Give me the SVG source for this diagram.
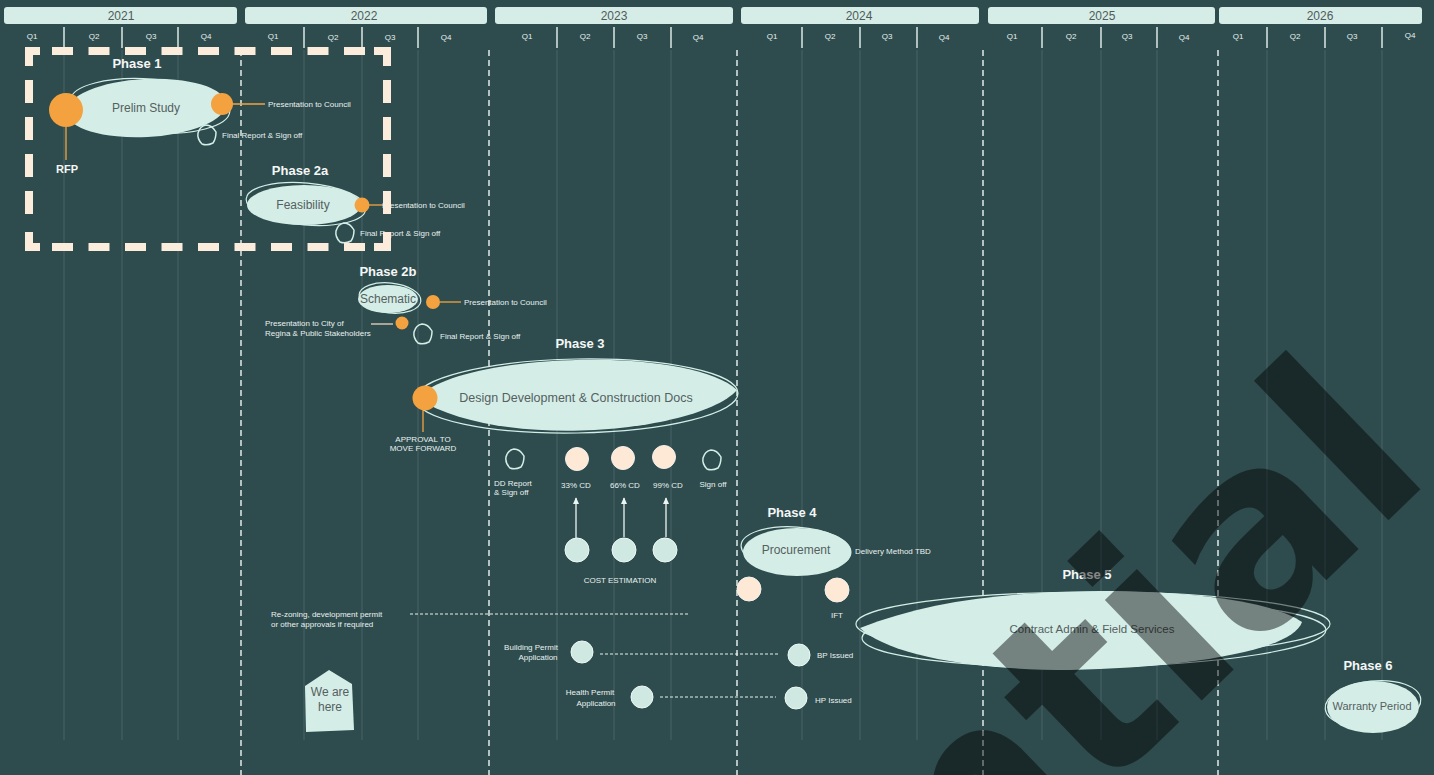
<svg xmlns="http://www.w3.org/2000/svg" xmlns:xlink="http://www.w3.org/1999/xlink" width="1434" height="775" viewBox="0 0 1434 775">
<defs>
<style>
.bg{fill:#2e4c4e}
.yearbar{fill:#d6ede7}
.year{font-family:"Liberation Sans",Arial,sans-serif;font-size:12px;fill:#4f5b5a;text-anchor:middle}
.q{font-family:"Liberation Sans",Arial,sans-serif;font-size:8px;fill:#e6f0ee;text-anchor:middle}
.tick{stroke:#e8f2ef;stroke-width:1.4}
.grid{stroke:#ffffff;stroke-opacity:0.13;stroke-width:1}
.ydash{stroke:#eef5f3;stroke-width:1.4;stroke-dasharray:6 4}
.box{stroke:#fcecdc;stroke-width:8;fill:none}
.fill{fill:#d4eee7}
.outline{fill:none;stroke:#d4eee7;stroke-width:1.2}
.ntext{font-family:"Liberation Sans",Arial,sans-serif;fill:#55605f;text-anchor:middle}
.phase{font-family:"Liberation Sans",Arial,sans-serif;font-weight:bold;font-size:13px;fill:#f4f7f6;text-anchor:middle}
.lbl{font-family:"Liberation Sans",Arial,sans-serif;font-size:8px;fill:#e9f1ef}
.lblc{font-family:"Liberation Sans",Arial,sans-serif;font-size:8px;fill:#e9f1ef;text-anchor:middle}
.orange{fill:#f4a23f}
.oline{stroke:#f4a23f;stroke-width:1.3}
.pent{fill:none;stroke:#d4eee7;stroke-width:1.5;stroke-linejoin:round}
.cream{fill:#fde9d6;stroke:#f6f0ea;stroke-width:1}
.mint{fill:#cfe9e2;stroke:#eef8f5;stroke-width:1}
.dots{stroke:#e9f1ef;stroke-width:1;stroke-dasharray:3 2}
.arrow{stroke:#eef5f3;stroke-width:1.3;marker-end:url(#ah)}
.wm{font-family:"DejaVu Sans","Liberation Sans",sans-serif;font-weight:bold;font-size:255px;fill:#000000;fill-opacity:0.45}
</style>
<marker id="ah" viewBox="0 0 10 10" refX="8" refY="5" markerWidth="6" markerHeight="6" orient="auto-start-reverse">
<path d="M0,1 L9,5 L0,9 Z" fill="#eef5f3"/>
</marker>
<path id="pentagon" d="M-1,-10 Q5,-10 9,-3 Q9,4 6,8 Q0,11 -5,9 Q-10,4 -9,-2 Q-7,-9 -1,-10 Z"/>
</defs>

<rect class="bg" x="0" y="0" width="1434" height="775"/>

<g id="timeline-header">
<rect class="yearbar" x="4" y="7" width="233" height="17" rx="3"/>
<rect class="yearbar" x="245" y="7" width="242" height="17" rx="3"/>
<rect class="yearbar" x="495" y="7" width="238" height="17" rx="3"/>
<rect class="yearbar" x="741" y="7" width="238" height="17" rx="3"/>
<rect class="yearbar" x="988" y="7" width="227" height="17" rx="3"/>
<rect class="yearbar" x="1219" y="7" width="203" height="17" rx="3"/>
<text class="year" x="121" y="20">2021</text>
<text class="year" x="364" y="20">2022</text>
<text class="year" x="614" y="20">2023</text>
<text class="year" x="859" y="20">2024</text>
<text class="year" x="1102" y="20">2025</text>
<text class="year" x="1320" y="20">2026</text>
<g>
<text class="q" x="32" y="39">Q1</text><text class="q" x="94" y="39">Q2</text><text class="q" x="151" y="39">Q3</text><text class="q" x="206" y="39">Q4</text>
<text class="q" x="273" y="39">Q1</text><text class="q" x="333" y="40">Q2</text><text class="q" x="390" y="40">Q3</text><text class="q" x="446" y="40">Q4</text>
<text class="q" x="527" y="39">Q1</text><text class="q" x="585" y="39">Q2</text><text class="q" x="642" y="39">Q3</text><text class="q" x="698" y="40">Q4</text>
<text class="q" x="772" y="39">Q1</text><text class="q" x="830" y="39">Q2</text><text class="q" x="887" y="39">Q3</text><text class="q" x="944" y="40">Q4</text>
<text class="q" x="1012" y="39">Q1</text><text class="q" x="1071" y="39">Q2</text><text class="q" x="1127" y="39">Q3</text><text class="q" x="1184" y="40">Q4</text>
<text class="q" x="1238" y="39">Q1</text><text class="q" x="1295" y="39">Q2</text><text class="q" x="1352" y="39">Q3</text><text class="q" x="1410" y="38">Q4</text>
</g>
<g>
<line class="tick" x1="64" y1="27" x2="64" y2="48"/><line class="tick" x1="122" y1="27" x2="122" y2="48"/><line class="tick" x1="178" y1="27" x2="178" y2="48"/>
<line class="tick" x1="304" y1="27" x2="304" y2="48"/><line class="tick" x1="362" y1="27" x2="362" y2="48"/><line class="tick" x1="418" y1="27" x2="418" y2="48"/>
<line class="tick" x1="557" y1="27" x2="557" y2="48"/><line class="tick" x1="614" y1="27" x2="614" y2="48"/><line class="tick" x1="671" y1="27" x2="671" y2="48"/>
<line class="tick" x1="802" y1="27" x2="802" y2="48"/><line class="tick" x1="860" y1="27" x2="860" y2="48"/><line class="tick" x1="917" y1="27" x2="917" y2="48"/>
<line class="tick" x1="1042" y1="27" x2="1042" y2="48"/><line class="tick" x1="1101" y1="27" x2="1101" y2="48"/><line class="tick" x1="1157" y1="27" x2="1157" y2="48"/>
<line class="tick" x1="1267" y1="27" x2="1267" y2="48"/><line class="tick" x1="1325" y1="27" x2="1325" y2="48"/><line class="tick" x1="1382" y1="27" x2="1382" y2="48"/>
</g>
</g>

<g id="grid">
<line class="grid" x1="64" y1="50" x2="64" y2="740"/><line class="grid" x1="122" y1="50" x2="122" y2="740"/><line class="grid" x1="178" y1="50" x2="178" y2="740"/>
<line class="grid" x1="304" y1="50" x2="304" y2="740"/><line class="grid" x1="362" y1="50" x2="362" y2="740"/><line class="grid" x1="418" y1="50" x2="418" y2="740"/>
<line class="grid" x1="557" y1="50" x2="557" y2="740"/><line class="grid" x1="614" y1="50" x2="614" y2="740"/><line class="grid" x1="671" y1="50" x2="671" y2="740"/>
<line class="grid" x1="802" y1="50" x2="802" y2="740"/><line class="grid" x1="860" y1="50" x2="860" y2="740"/><line class="grid" x1="917" y1="50" x2="917" y2="740"/>
<line class="grid" x1="1042" y1="50" x2="1042" y2="740"/><line class="grid" x1="1101" y1="50" x2="1101" y2="740"/><line class="grid" x1="1157" y1="50" x2="1157" y2="740"/>
<line class="grid" x1="1267" y1="50" x2="1267" y2="740"/><line class="grid" x1="1325" y1="50" x2="1325" y2="740"/><line class="grid" x1="1382" y1="50" x2="1382" y2="740"/>
<line class="ydash" x1="241" y1="50" x2="241" y2="775"/>
<line class="ydash" x1="489" y1="50" x2="489" y2="775"/>
<line class="ydash" x1="737" y1="50" x2="737" y2="775"/>
<line class="ydash" x1="983" y1="50" x2="983" y2="775"/>
<line class="ydash" x1="1218" y1="50" x2="1218" y2="775"/>
</g>

<g id="connectors">
<line class="oline" x1="230" y1="104" x2="265" y2="104"/>
<line class="oline" x1="66" y1="127" x2="66" y2="160"/>
<line class="oline" x1="369" y1="205" x2="384" y2="205"/>
<line class="oline" x1="440" y1="302" x2="461" y2="302"/>
<line x1="371" y1="324" x2="393" y2="324" stroke="#f0d2c2" stroke-width="1.3"/>
<line class="oline" x1="423" y1="410" x2="423" y2="432"/>
<line class="arrow" x1="576" y1="538" x2="576" y2="498"/>
<line class="arrow" x1="624" y1="537" x2="624" y2="498"/>
<line class="arrow" x1="666" y1="537" x2="666" y2="498"/>
<line class="dots" x1="410" y1="614" x2="690" y2="614"/>
<line class="dots" x1="600" y1="654" x2="780" y2="654"/>
<line class="dots" x1="660" y1="697" x2="776" y2="697"/>
</g>

<g id="phase1">
<text class="phase" x="137" y="68">Phase 1</text>
<ellipse class="fill" cx="146" cy="108" rx="80" ry="29" transform="rotate(-3 146 108)"/>
<ellipse class="outline" cx="150" cy="106" rx="80" ry="27" transform="rotate(4 150 106)"/>
<text class="ntext" x="146" y="112" font-size="12">Prelim Study</text>
</g>
<g id="rfp">
<circle class="orange" cx="66" cy="110" r="17"/>
<text x="67" y="173" font-family="Liberation Sans, Arial, sans-serif" font-weight="bold" font-size="11" fill="#f4f7f6" text-anchor="middle">RFP</text>
</g>
<g id="p1-council">
<circle class="orange" cx="222" cy="104" r="11"/>
<text class="lbl" x="268" y="107">Presentation to Council</text>
</g>
<g id="p1-final">
<use href="#pentagon" xlink:href="#pentagon" class="pent" transform="translate(207 135)"/>
<text class="lbl" x="222" y="138">Final Report &amp; Sign off</text>
</g>

<g id="phase2a">
<text class="phase" x="300" y="175">Phase 2a</text>
<ellipse class="fill" cx="304" cy="205" rx="57" ry="20"/>
<ellipse class="outline" cx="306" cy="204" rx="60" ry="21" transform="rotate(5 306 204)"/>
<text class="ntext" x="303" y="209" font-size="12">Feasibility</text>
</g>
<g id="p2a-council">
<circle class="orange" cx="362" cy="205" r="7.5"/>
<text class="lbl" x="382" y="208">Presentation to Council</text>
</g>
<g id="p2a-final">
<use href="#pentagon" xlink:href="#pentagon" class="pent" transform="translate(345 233)"/>
<text class="lbl" x="360" y="236">Final Report &amp; Sign off</text>
</g>

<g id="phase1-2a-box">
<line class="box" x1="52" y1="51" x2="366" y2="51" stroke-dasharray="21 15.5"/>
<line class="box" x1="52" y1="247" x2="366" y2="247" stroke-dasharray="21 15.5"/>
<line class="box" x1="29" y1="80" x2="29" y2="220" stroke-dasharray="23 14"/>
<line class="box" x1="387" y1="80" x2="387" y2="220" stroke-dasharray="23 14"/>
<path class="box" d="M29,66 V51 H40"/>
<path class="box" d="M374,51 H387 V66"/>
<path class="box" d="M29,232 V247 H40"/>
<path class="box" d="M374,247 H387 V232"/>
</g>

<g id="phase2b">
<text class="phase" x="388" y="276">Phase 2b</text>
<ellipse class="fill" cx="388" cy="299" rx="30" ry="14"/>
<ellipse class="outline" cx="390" cy="298" rx="31" ry="15" transform="rotate(6 390 298)"/>
<text class="ntext" x="388" y="303" font-size="12">Schematic</text>
</g>
<g id="p2b-council">
<circle class="orange" cx="433" cy="302" r="7"/>
<text class="lbl" x="464" y="305">Presentation to Council</text>
</g>
<g id="p2b-city">
<circle class="orange" cx="402" cy="323" r="6.5"/>
<text class="lbl" x="265" y="326">Presentation to City of</text>
<text class="lbl" x="265" y="336">Regina &amp; Public Stakeholders</text>
</g>
<g id="p2b-final">
<use href="#pentagon" xlink:href="#pentagon" class="pent" transform="translate(423 334)"/>
<text class="lbl" x="440" y="339">Final Report &amp; Sign off</text>
</g>

<g id="phase3">
<text class="phase" x="580" y="348">Phase 3</text>
<path class="fill" d="M417,398 C460,352 690,345 737,390 C700,432 500,452 417,398 Z"/>
<ellipse class="outline" cx="577" cy="396" rx="161" ry="37" transform="rotate(-1 577 396)"/>
<text class="ntext" x="576" y="402" font-size="12.5">Design Development &amp; Construction Docs</text>
</g>
<g id="approval">
<circle class="orange" cx="425" cy="398" r="12.5"/>
<text class="lblc" x="423" y="442" font-size="7">APPROVAL TO</text>
<text class="lblc" x="423" y="451" font-size="7">MOVE FORWARD</text>
</g>

<g id="dd-report">
<use href="#pentagon" xlink:href="#pentagon" class="pent" transform="translate(515 459)"/>
<text class="lbl" x="494" y="486">DD Report</text>
<text class="lbl" x="494" y="495">&amp; Sign off</text>
</g>
<g id="cd33"><circle class="cream" cx="577" cy="459" r="11.5"/><text class="lblc" x="576" y="488">33% CD</text></g>
<g id="cd66"><circle class="cream" cx="623" cy="458" r="11.5"/><text class="lblc" x="625" y="488">66% CD</text></g>
<g id="cd99"><circle class="cream" cx="664" cy="457" r="11.5"/><text class="lblc" x="668" y="488">99% CD</text></g>
<g id="signoff">
<use href="#pentagon" xlink:href="#pentagon" class="pent" transform="translate(712 460)"/>
<text class="lblc" x="713" y="487">Sign off</text>
</g>

<g id="cost-estimation">
<circle class="mint" cx="577" cy="550" r="12"/>
<circle class="mint" cx="624" cy="550" r="12"/>
<circle class="mint" cx="665" cy="550" r="12"/>
<text class="lblc" x="620" y="583">COST ESTIMATION</text>
</g>

<g id="phase4">
<text class="phase" x="792" y="517">Phase 4</text>
<ellipse class="fill" cx="797" cy="552" rx="54" ry="24"/>
<ellipse class="outline" cx="796" cy="549" rx="55" ry="22" transform="rotate(4 796 549)"/>
<text class="ntext" x="796" y="554" font-size="12">Procurement</text>
<text class="lbl" x="855" y="554">Delivery Method TBD</text>
</g>
<g id="tender"><circle class="cream" cx="749" cy="589" r="12"/></g>
<g id="ift"><circle class="cream" cx="837" cy="590" r="12"/><text class="lblc" x="837" y="618" font-size="7">IFT</text></g>

<g id="phase5">
<text class="phase" x="1087" y="579">Phase 5</text>
<path class="fill" d="M860,628 C930,600 1010,592 1100,591 C1200,591 1275,603 1302,622 C1292,652 1180,668 1070,670 C960,670 885,652 860,628 Z"/>
<ellipse class="outline" cx="1093" cy="624" rx="237" ry="32"/>
<ellipse class="outline" cx="1094" cy="634" rx="232" ry="33" transform="rotate(-1 1094 634)"/>
<text class="ntext" x="1092" y="633" font-size="11.5">Contract Admin &amp; Field Services</text>
</g>

<g id="phase6">
<text class="phase" x="1368" y="670">Phase 6</text>
<ellipse class="fill" cx="1373" cy="707" rx="46" ry="26"/>
<ellipse class="outline" cx="1373" cy="704" rx="48" ry="23" transform="rotate(-6 1373 704)"/>
<text class="ntext" x="1372" y="710" font-size="11">Warranty Period</text>
</g>

<g id="rezoning">
<text class="lbl" x="271" y="617">Re-zoning, development permit</text>
<text class="lbl" x="271" y="627">or other approvals if required</text>
</g>

<g id="building-permit">
<circle class="mint" cx="582" cy="652" r="11"/>
<text class="lblc" x="531" y="650">Building Permit</text>
<text class="lblc" x="538" y="660">Application</text>
</g>
<g id="bp-issued">
<circle class="mint" cx="799" cy="655" r="11"/>
<text class="lbl" x="817" y="658">BP Issued</text>
</g>
<g id="health-permit">
<circle class="mint" cx="642" cy="697" r="11"/>
<text class="lblc" x="590" y="695">Health Permit</text>
<text class="lblc" x="596" y="706">Application</text>
</g>
<g id="hp-issued">
<circle class="mint" cx="796" cy="698" r="11"/>
<text class="lbl" x="815" y="703">HP Issued</text>
</g>

<g id="we-are-here">
<path class="fill" d="M305,686 L329,670 L352,684 L354,730 L306,732 Z"/>
<text class="ntext" x="330" y="696" font-size="12">We are</text>
<text class="ntext" x="330" y="711" font-size="12">here</text>
</g>

<g id="watermark">
<text class="wm" transform="translate(968 926) rotate(-44)">ntial</text>
</g>
</svg>
